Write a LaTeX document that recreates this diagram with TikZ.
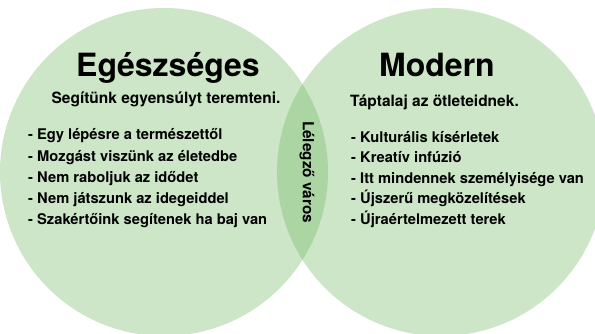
\documentclass[tikz,border=0pt]{standalone}
\usepackage{fontspec}
\setmainfont{TeX Gyre Heros}
\definecolor{circfill}{RGB}{205,230,199}
\definecolor{lensfill}{RGB}{172,213,164}
\begin{document}
\begin{tikzpicture}[x=1pt,y=-1pt,
  titletext/.style={font=\fontsize{32}{36}\selectfont\bfseries, inner sep=0pt, anchor=base},
  subtext/.style={font=\fontsize{15.5}{18}\selectfont\bfseries, inner sep=0pt},
  itemtext/.style={font=\fontsize{14.7}{17}\selectfont\bfseries, inner sep=0pt, anchor=base west},
  lenstext/.style={font=\fontsize{15.3}{18}\selectfont\bfseries, inner sep=0pt, rotate=-90}]
\useasboundingbox (0,0) rectangle (595,334);
\coordinate (cl) at (164,172);
\coordinate (cr) at (441,172);
\fill[circfill] (cl) circle[radius=164pt];
\fill[circfill] (cr) circle[radius=164pt];
\begin{scope}
  \clip (cl) circle[radius=164pt];
  \fill[lensfill] (cr) circle[radius=164pt];
\end{scope}
% titles
\node[titletext] (tl) at (168,77) {Egészséges};
\node[titletext] (tr) at (437,77) {Modern};
% subtitles
\node[subtext, anchor=base] (sl) at (166,103.5) {Segítünk egyensúlyt teremteni.};
\node[subtext, anchor=base west] (sr) at (350,107) {Táptalaj az ötleteidnek.};
% left list
\node[itemtext] (l1) at (28,140) {- Egy lépésre a természettől};
\node[itemtext] (l2) at (28,161.5) {- Mozgást viszünk az életedbe};
\node[itemtext] (l3) at (28,182.5) {- Nem raboljuk az idődet};
\node[itemtext] (l4) at (28,204) {- Nem játszunk az idegeiddel};
\node[itemtext] (l5) at (28,225) {- Szakértőink segítenek ha baj van};
% right list
\node[itemtext] (r1) at (351,142.5) {- Kulturális kísérletek};
\node[itemtext] (r2) at (351,163) {- Kreatív infúzió};
\node[itemtext] (r3) at (351,183.5) {- Itt mindennek személyisége van};
\node[itemtext] (r4) at (351,204) {- Újszerű megközelítések};
\node[itemtext] (r5) at (351,224.5) {- Újraértelmezett terek};
% lens label
\node[lenstext] (lv) at (307,172) {Lélegző város};
\end{tikzpicture}
\end{document}
